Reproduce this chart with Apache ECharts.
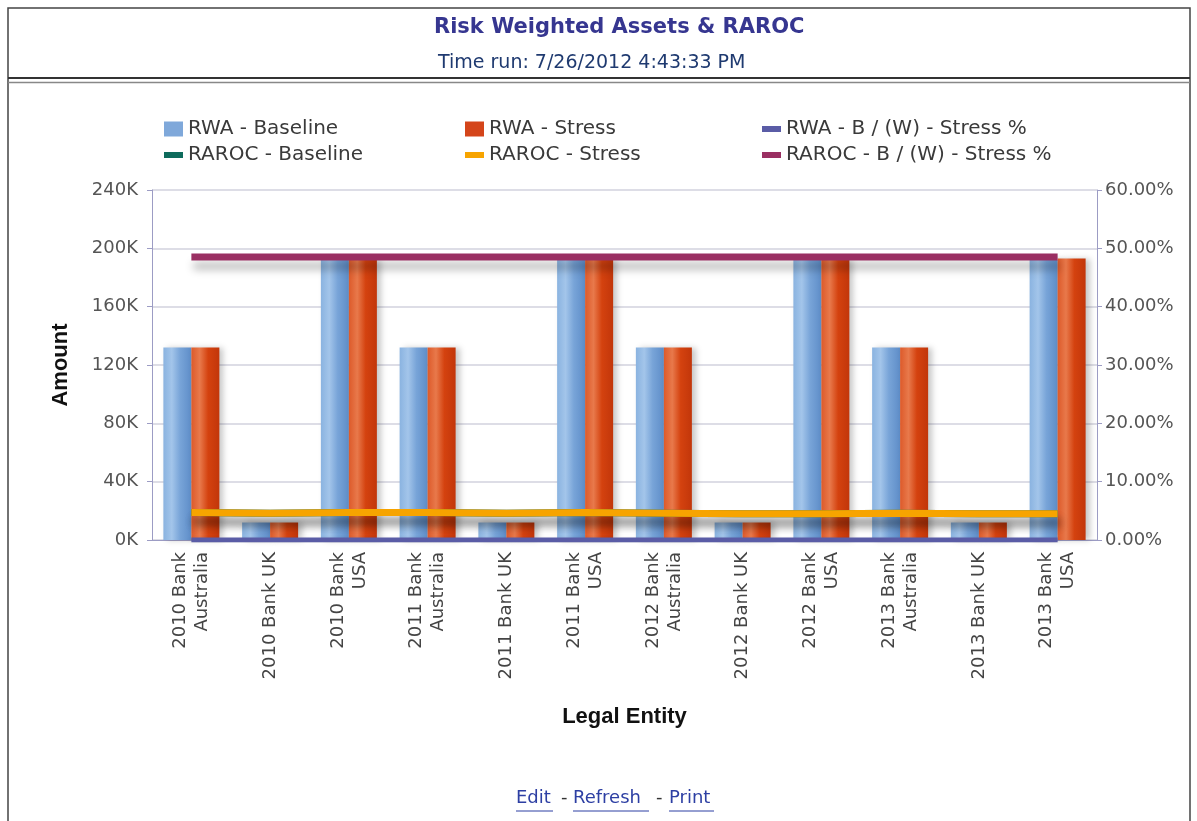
<!DOCTYPE html>
<html><head><meta charset="utf-8">
<script src="https://cdn.jsdelivr.net/npm/echarts@6/dist/echarts.min.js"></script>
<style>html,body{margin:0;padding:0;background:#fff}#c{width:1197px;height:821px}</style>
</head><body><div id="c"></div>
<script>
// ---- data ----
const categories = ['2010 Bank\nAustralia','2010 Bank UK','2010 Bank\nUSA','2011 Bank\nAustralia','2011 Bank UK','2011 Bank\nUSA','2012 Bank\nAustralia','2012 Bank UK','2012 Bank\nUSA','2013 Bank\nAustralia','2013 Bank UK','2013 Bank\nUSA'];
const rwaBaseline = [132000,12000,192000,132000,12000,192000,132000,12000,192000,132000,12000,192000];
const rwaStress   = [132000,12000,192000,132000,12000,192000,132000,12000,192000,132000,12000,193000];
const rwaBWStressPct   = [0,0,0,0,0,0,0,0,0,0,0,0];
const rarocBaseline    = [4.7,4.6,4.7,4.7,4.6,4.7,4.6,4.5,4.5,4.6,4.5,4.5];
const rarocStress      = [4.7,4.6,4.7,4.7,4.6,4.7,4.6,4.5,4.5,4.6,4.5,4.5];
const rarocBWStressPct = [48.5,48.5,48.5,48.5,48.5,48.5,48.5,48.5,48.5,48.5,48.5,48.5];
const seriesNames = ['RWA - Baseline','RWA - Stress','RWA - B / (W) - Stress %','RAROC - Baseline','RAROC - Stress','RAROC - B / (W) - Stress %'];
const amountAxis = {min:0, max:240000, interval:40000};
const pctAxis = {min:0, max:60, interval:10};

// ---- chart ----
const chart = echarts.init(document.getElementById('c'));
const G = echarts.graphic;
const blueGrad = new G.LinearGradient(0,0,1,0,[{offset:0,color:'#8AB3E0'},{offset:0.3,color:'#A3C5EA'},{offset:0.6,color:'#78A4D8'},{offset:1,color:'#5E8DC8'}]);
const orangeGrad = new G.LinearGradient(0,0,1,0,[{offset:0,color:'#DD5A2A'},{offset:0.3,color:'#E8794B'},{offset:0.6,color:'#D4420F'},{offset:1,color:'#C2360A'}]);
const colors = ['#7FA8DA','#D4451A','#5A5CA6','#0E6B5C','#F7A400','#9A2F62'];
const font = 'DejaVu Sans';

function mkLegend(i, left, top, h){
  return {
    left: left, top: top, padding: 0, itemWidth: 19, itemHeight: h, selectedMode: false,
    textStyle: {fontFamily: font, fontSize: 20, color: '#3a3a3a', lineHeight: 20},
    itemStyle: {borderWidth: 0},
    data: [{name: seriesNames[i], icon: 'rect', itemStyle: {color: colors[i], borderWidth: 0}}]
  };
}
const lineShadow = {shadowColor:'rgba(0,0,0,0.28)', shadowBlur:8, shadowOffsetY:9, shadowOffsetX:2};
const barShadow = {shadowColor:'rgba(0,0,0,0.22)', shadowBlur:6, shadowOffsetX:4, shadowOffsetY:0};

const option = {
  animation: false,
  backgroundColor: '#fff',
  title: [
    {text: 'Risk Weighted Assets & RAROC', left: 434, top: 17, padding: 0,
     textStyle: {fontFamily: font, fontWeight: 'bold', fontSize: 21, color: '#363690'}},
    {text: 'Time run: 7/26/2012 4:43:33 PM', left: 438, top: 54, padding: 0,
     textStyle: {fontFamily: font, fontWeight: 'normal', fontSize: 19, color: '#1F3A70'}}
  ],
  legend: [
    mkLegend(0, 164, 119, 15), mkLegend(1, 465, 119, 15), mkLegend(2, 762, 119, 6),
    mkLegend(3, 164, 145, 6),  mkLegend(4, 465, 145, 6),  mkLegend(5, 762, 145, 6)
  ],
  grid: {left: 152, right: 100, top: 190, bottom: 281, containLabel: false},
  xAxis: {
    type: 'category', data: categories, boundaryGap: true,
    name: 'Legal Entity', nameLocation: 'middle', nameGap: 166,
    nameTextStyle: {fontFamily: 'Liberation Sans', fontWeight: 'bold', fontSize: 22, color: '#111'},
    axisLine: {show: true, lineStyle: {color: '#9C9CC4', width: 1}},
    axisTick: {show: false},
    axisLabel: {interval: 0, rotate: 90, margin: 12, fontFamily: font, fontSize: 18, lineHeight: 22, color: '#444'}
  },
  yAxis: [
    {type: 'value', min: amountAxis.min, max: amountAxis.max, interval: amountAxis.interval,
     name: 'Amount', nameLocation: 'middle', nameGap: 80, nameRotate: 90,
     nameTextStyle: {fontFamily: 'Liberation Sans', fontWeight: 'bold', fontSize: 22, color: '#111'},
     axisLine: {show: true, lineStyle: {color: '#9C9CC4'}},
     axisTick: {show: true, length: 5, lineStyle: {color: '#9C9CC4'}},
     splitLine: {show: true, lineStyle: {color: '#D2D2DE', width: 1.5}},
     axisLabel: {margin: 14, fontFamily: font, fontSize: 18, color: '#555', formatter: v => (v/1000) + 'K'}},
    {type: 'value', min: pctAxis.min, max: pctAxis.max, interval: pctAxis.interval, position: 'right',
     axisLine: {show: true, lineStyle: {color: '#9C9CC4'}},
     axisTick: {show: true, length: 5, lineStyle: {color: '#9C9CC4'}},
     splitLine: {show: false},
     axisLabel: {margin: 8, fontFamily: font, fontSize: 18, color: '#555', formatter: v => v.toFixed(2) + '%'}}
  ],
  series: [
    {name: seriesNames[0], type: 'bar', data: rwaBaseline, barWidth: 28, barGap: '0%', yAxisIndex: 0,
     itemStyle: Object.assign({color: blueGrad}, barShadow)},
    {name: seriesNames[1], type: 'bar', data: rwaStress, barWidth: 28, barGap: '0%', yAxisIndex: 0,
     itemStyle: Object.assign({color: orangeGrad}, barShadow)},
    {name: seriesNames[2], type: 'line', data: rwaBWStressPct, yAxisIndex: 1, symbol: 'none', z: 3,
     itemStyle: {color: colors[2]}, lineStyle: Object.assign({color: colors[2], width: 5}, {shadowColor:'rgba(0,0,0,0.2)', shadowBlur:6, shadowOffsetY:4})},
    {name: seriesNames[3], type: 'line', data: rarocBaseline, yAxisIndex: 1, symbol: 'none', z: 3,
     itemStyle: {color: colors[3]}, lineStyle: Object.assign({color: colors[3], width: 7}, lineShadow)},
    {name: seriesNames[4], type: 'line', data: rarocStress, yAxisIndex: 1, symbol: 'none', z: 4,
     itemStyle: {color: colors[4]}, lineStyle: Object.assign({color: colors[4], width: 7}, lineShadow)},
    {name: seriesNames[5], type: 'line', data: rarocBWStressPct, yAxisIndex: 1, symbol: 'none', z: 4,
     itemStyle: {color: colors[5]}, lineStyle: Object.assign({color: colors[5], width: 7}, lineShadow)}
  ],
  graphic: [
    {type: 'rect', shape: {x: 8, y: 8, width: 1182, height: 830}, style: {fill: 'none', stroke: '#444', lineWidth: 1.5}, silent: true},
    {type: 'line', shape: {x1: 8, y1: 78, x2: 1190, y2: 78}, style: {stroke: '#333', lineWidth: 2}, silent: true},
    {type: 'line', shape: {x1: 8, y1: 82.5, x2: 1190, y2: 82.5}, style: {stroke: '#888', lineWidth: 1.5}, silent: true},
    {type: 'text', left: 516, top: 789, style: {text: 'Edit', font: '18px "DejaVu Sans"', fill: '#2D3FA3'}},
    {type: 'text', left: 561, top: 789, style: {text: '-', font: '18px "DejaVu Sans"', fill: '#333'}},
    {type: 'text', left: 573, top: 789, style: {text: 'Refresh', font: '18px "DejaVu Sans"', fill: '#2D3FA3'}},
    {type: 'text', left: 656, top: 789, style: {text: '-', font: '18px "DejaVu Sans"', fill: '#333'}},
    {type: 'text', left: 669, top: 789, style: {text: 'Print', font: '18px "DejaVu Sans"', fill: '#2D3FA3'}},
    {type: 'line', shape: {x1: 516, y1: 811, x2: 553, y2: 811}, style: {stroke: '#2D3FA3', lineWidth: 1}},
    {type: 'line', shape: {x1: 573, y1: 811, x2: 649, y2: 811}, style: {stroke: '#2D3FA3', lineWidth: 1}},
    {type: 'line', shape: {x1: 669, y1: 811, x2: 714, y2: 811}, style: {stroke: '#2D3FA3', lineWidth: 1}}
  ]
};
chart.setOption(option);
</script></body></html>
